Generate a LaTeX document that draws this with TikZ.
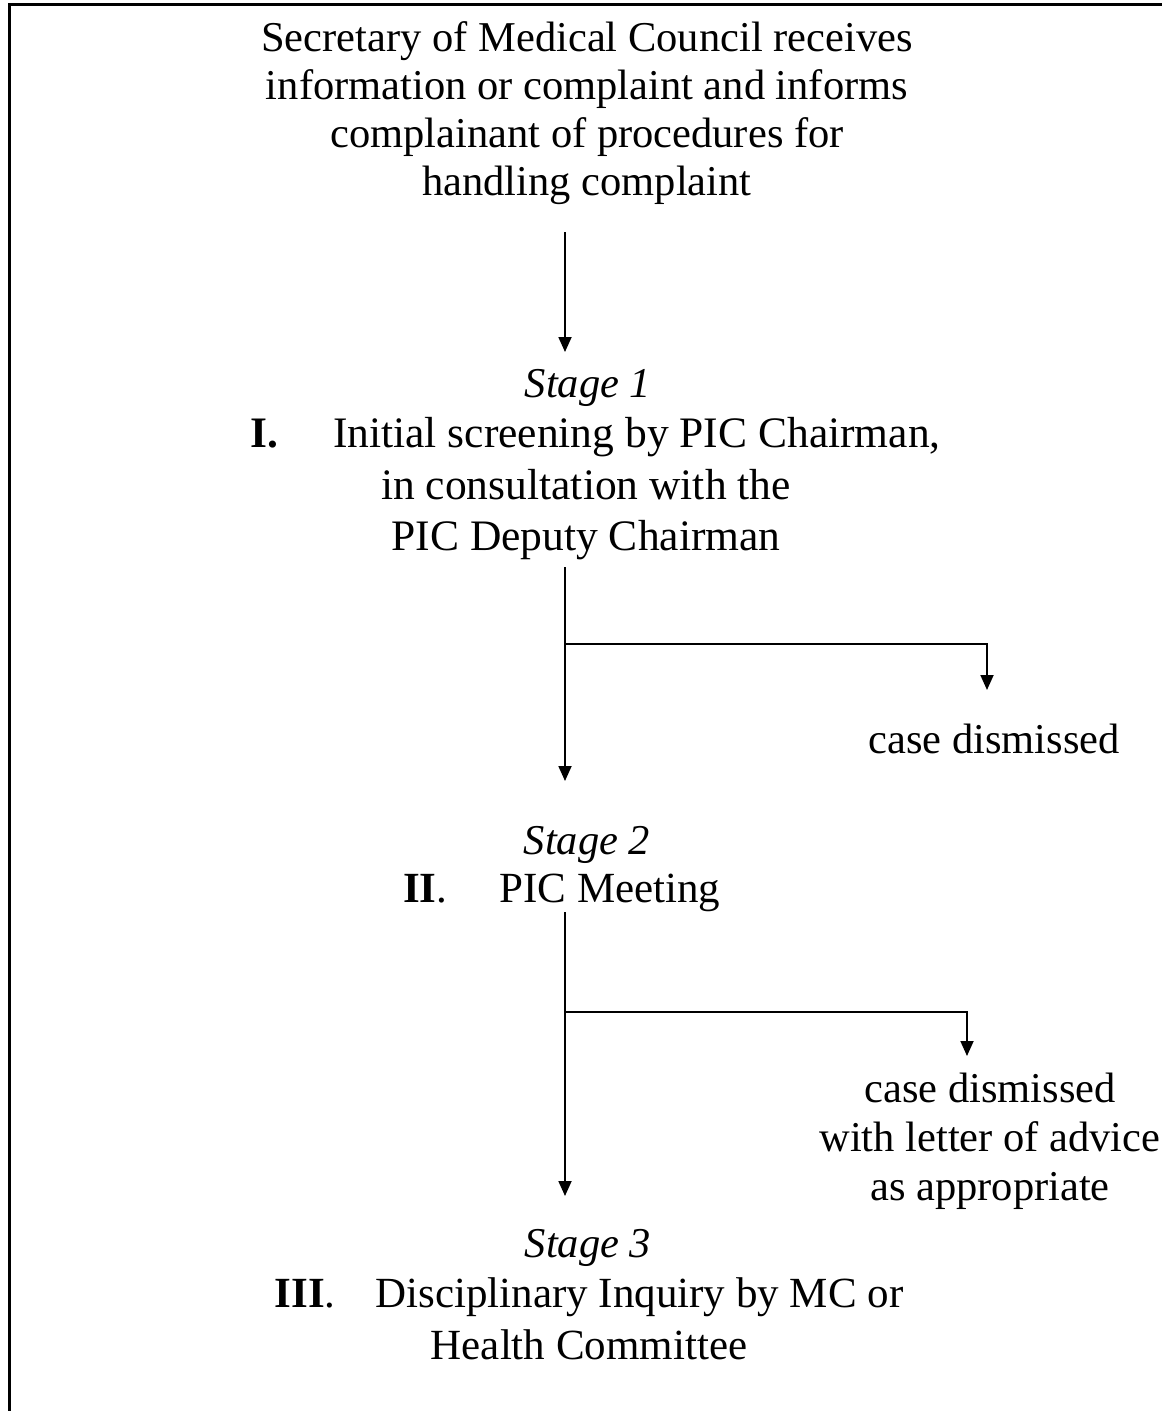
\documentclass[tikz,border=0pt]{standalone}
\usepackage{fontspec}
\setmainfont{Liberation Serif}
\usetikzlibrary{arrows.meta}
\begin{document}
\begin{tikzpicture}[x=1pt,y=-1pt,
  txt/.style={inner sep=0pt,font=\fontsize{42.5}{49}\selectfont,align=center},
  conn/.style={line width=1.8pt},
  arr/.style={conn,-{Triangle[length=15pt,width=13pt]}},
  frameline/.style={line width=3pt}]
\useasboundingbox (0,0) rectangle (1162,1411);
% frame (left and top sides)
\draw[frameline] (9,1411) -- (9,4) -- (1162,4);
% texts
\node[txt,anchor=north,font=\fontsize{42.5}{48}\selectfont] (top) at (587,21) {Secretary of Medical Council receives\\information or complaint and informs\\complainant of procedures for\\handling complaint};
\node[txt,anchor=base] (s1label) at (588,397) {\itshape Stage 1};
\node[txt,anchor=base west,font=\fontsize{43.5}{51}\selectfont] (s1) at (250,447) {\textbf{I.}\hspace{55pt}Initial screening by PIC Chairman,};
\node[txt,anchor=north,font=\fontsize{43.5}{51}\selectfont] (s1b) at (586,469) {in consultation with the\\PIC Deputy Chairman};
\node[txt,anchor=base] (d1) at (994,753) {case dismissed};
\node[txt,anchor=base] (s2label) at (587,854) {\itshape Stage 2};
\node[txt,anchor=base west,font=\fontsize{43}{49}\selectfont] (s2) at (403,902) {\textbf{II}.\hspace{52pt}PIC Meeting};
\node[txt,anchor=north] (d2) at (990,1073) {case dismissed\\with letter of advice\\as appropriate};
\node[txt,anchor=base] (s3label) at (588,1257) {\itshape Stage 3};
\node[txt,anchor=north,font=\fontsize{43}{52}\selectfont] (s3) at (589,1277) {\textbf{III}.\hspace{40pt}Disciplinary Inquiry by MC or\\Health Committee};
% connectors
\coordinate (a0) at (565,232);
\coordinate (a1) at (565,352);
\coordinate (b0) at (565,567);
\coordinate (b1) at (565,781);
\coordinate (bj) at (565,644);
\coordinate (bc) at (987,644);
\coordinate (bd) at (987,690);
\coordinate (c0) at (565,912);
\coordinate (c1) at (565,1196);
\coordinate (cj) at (565,1012);
\coordinate (cc) at (967,1012);
\coordinate (cd) at (967,1056);
\draw[arr] (a0) -- (a1);
\draw[arr] (b0) -- (b1);
\draw[arr] (bj) -- (bc) -- (bd);
\draw[arr] (c0) -- (c1);
\draw[arr] (cj) -- (cc) -- (cd);
\end{tikzpicture}
\end{document}
